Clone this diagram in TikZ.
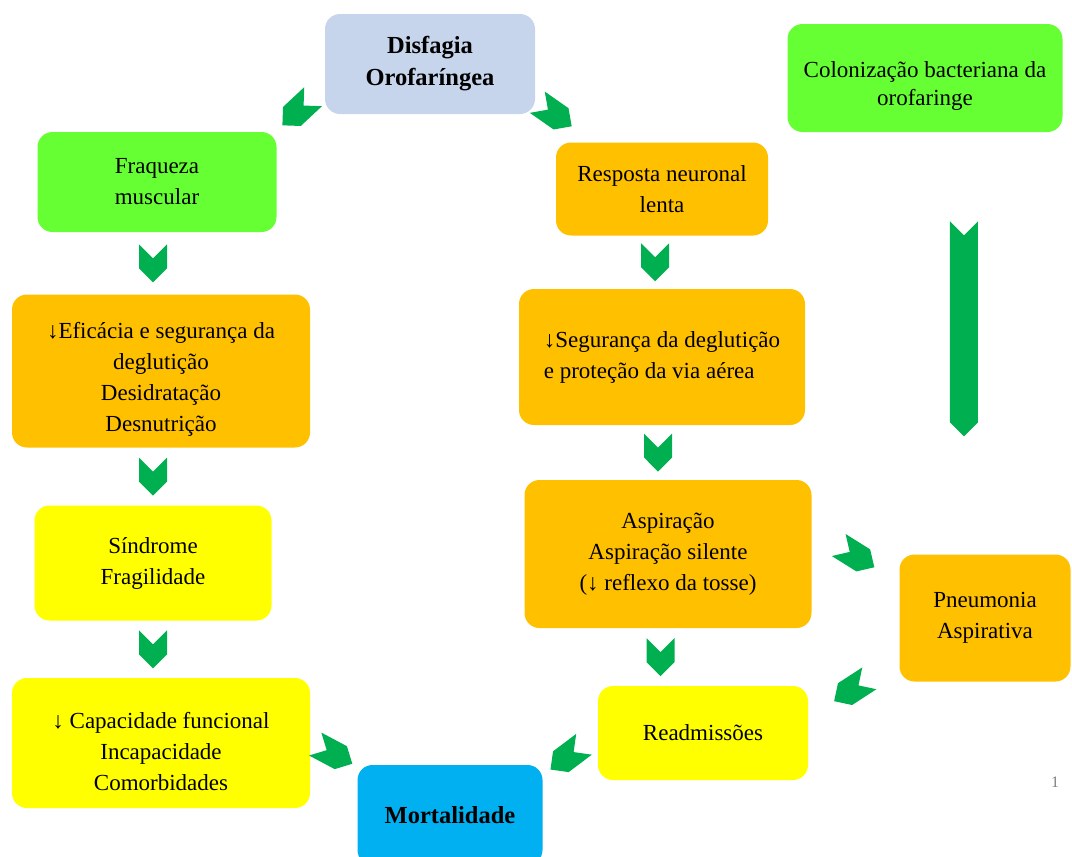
\documentclass[tikz,border=0pt]{standalone}
\usepackage{fontspec}
\setmainfont{Liberation Serif}
\usetikzlibrary{shapes.symbols}
\definecolor{azulclaro}{HTML}{C6D5EB}
\definecolor{verdeclaro}{HTML}{66FF33}
\definecolor{laranja}{HTML}{FFC000}
\definecolor{amarelo}{HTML}{FFFF00}
\definecolor{azul}{HTML}{00B0F0}
\definecolor{seta}{HTML}{00B050}
\begin{document}
\begin{tikzpicture}[x=1pt,y=-1pt,
    caixa/.style={rounded corners=15pt,inner sep=0pt,align=center,font=\fontsize{23}{31}\selectfont},
    chev/.style={shape=signal,signal to=east,signal from=west,signal pointer angle=90,
        fill=seta,minimum width=38pt,minimum height=28pt,inner sep=0pt},
    chevd/.style={chev,minimum width=42pt,minimum height=26pt}]
    \useasboundingbox (0,0) rectangle (1072,857);
    % caixas
    \node[caixa,fill=azulclaro,minimum width=210pt,minimum height=100pt,font=\fontsize{24.5}{32}\selectfont\bfseries] (dis) at (430,64) {Disfagia\\Orofaríngea};
    \node[caixa,fill=verdeclaro,minimum width=275pt,minimum height=108pt,font=\fontsize{23}{28}\selectfont] (colon) at (925,78) {\rule{0pt}{32pt}Colonização bacteriana da\\orofaringe};
    \node[caixa,fill=verdeclaro,minimum width=239pt,minimum height=100pt] (fraq) at (157,182) {Fraqueza\\muscular};
    \node[caixa,fill=laranja,minimum width=212pt,minimum height=93pt] (resp) at (662,189) {Resposta neuronal\\lenta};
    \node[caixa,fill=laranja,minimum width=298pt,minimum height=153pt] (efic) at (161,371) {\rule{0pt}{33pt}↓Eficácia e segurança da\\deglutição\\Desidratação\\Desnutrição};
    \node[caixa,fill=laranja,minimum width=286pt,minimum height=136pt,align=left] (seg) at (662,357) {↓Segurança da deglutição\\e proteção da via aérea};
    \node[caixa,fill=amarelo,minimum width=237pt,minimum height=115pt] (sind) at (153,563) {Síndrome\\Fragilidade};
    \node[caixa,fill=laranja,minimum width=287pt,minimum height=148pt] (asp) at (668,554) {Aspiração\\Aspiração silente\\(↓ reflexo da tosse)};
    \node[caixa,fill=laranja,minimum width=171pt,minimum height=127pt] (pneu) at (985,618) {Pneumonia\\Aspirativa};
    \node[caixa,fill=amarelo,minimum width=298pt,minimum height=130pt] (cap) at (161,743) {\rule{0pt}{33pt}↓ Capacidade funcional\\Incapacidade\\Comorbidades};
    \node[caixa,fill=amarelo,minimum width=210pt,minimum height=94pt] (readm) at (703,733) {Readmissões};
    \node[caixa,fill=azul,minimum width=185pt,minimum height=100pt,font=\fontsize{24.5}{31}\selectfont\bfseries] (mort) at (450,815) {Mortalidade};
    % setas
    \path (dis.south west) -- (fraq.north east) node[chevd,midway,xshift=-3pt,yshift=12pt,rotate=-137] {};
    \path (dis.south east) -- (resp.north west) node[chevd,midway,xshift=9pt,yshift=14pt,rotate=-35] {};
    \path (fraq.south) -- (efic.north) node[chev,midway,xshift=-6pt,rotate=-90] {};
    \path (resp.south) -- (seg.north) node[chev,midway,xshift=-7pt,rotate=-90] {};
    \path (efic.south) -- (sind.north) node[chev,midway,xshift=-4pt,rotate=-90] {};
    \path (seg.south) -- (asp.north) node[chev,midway,xshift=-7pt,rotate=-90] {};
    \path (sind.south) -- (cap.north) node[chev,midway,xshift=-4pt,rotate=-90] {};
    \path (asp.south) -- (readm.north) node[chev,midway,xshift=-25pt,rotate=-90] {};
    \path (colon.south) -- (pneu.north) node[chev,pos=.466,xshift=11pt,rotate=-90,minimum width=215pt] {};
    \path (asp.east) -- (pneu.north west) node[chevd,midway,xshift=1pt,yshift=-2pt,rotate=-32] {};
    \path (pneu.south west) -- (readm.north east) node[chevd,midway,xshift=-2pt,yshift=-6pt,rotate=-147] {};
    \path (cap.east) -- (mort.north west) node[chevd,midway,rotate=-28] {};
    \path (readm.west) -- (mort.north east) node[chevd,midway,xshift=-3pt,yshift=-8pt,rotate=-143] {};
    % numero da pagina
    \node[text=gray,font=\fontsize{16}{16}\selectfont] (pag) at (1055,782) {1};
\end{tikzpicture}
\end{document}
